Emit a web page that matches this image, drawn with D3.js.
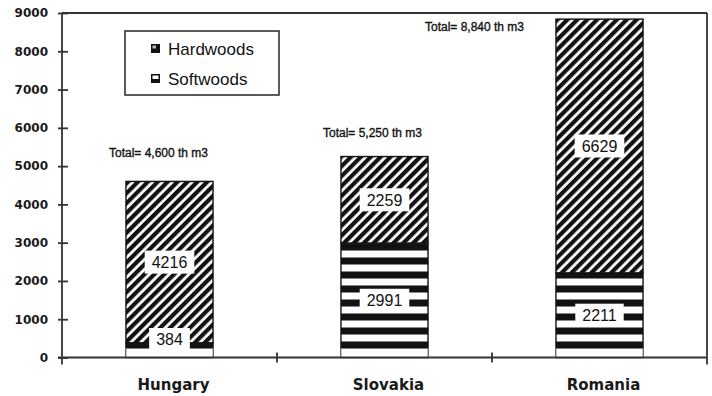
<!DOCTYPE html>
<html>
<head>
<meta charset="utf-8">
<script src="https://cdn.jsdelivr.net/npm/d3@7"></script>
<style>
  html, body { margin: 0; padding: 0; background: #fff; }
  svg { display: block; }
</style>
</head>
<body>
<svg id="chart" width="712" height="396"></svg>
<script>
// Wood removals by species group, thousand m3
const categories = ["Hungary", "Slovakia", "Romania"];
const softwoods = [384, 2991, 2211];
const hardwoods = [4216, 2259, 6629];
const seriesKeys = ["Softwoods", "Hardwoods"];
const legendKeys = ["Hardwoods", "Softwoods"];
const yTicks = [0, 1000, 2000, 3000, 4000, 5000, 6000, 7000, 8000, 9000];

// Plot frame
const plot = { left: 62, right: 707, top: 13, bottom: 357.5 };
const ink = "#121212";
const frameInk = "#333";

const svg = d3.select("#chart");

const x = d3.scaleBand().domain(categories).range([plot.left, plot.right]);
const y = d3.scaleLinear().domain([0, 9000]).range([plot.bottom, plot.top]);
const barW = x.bandwidth() * 0.405;
const cx = c => x(c) + x.bandwidth() / 2;
const plinth = 9;

const rows = categories.map((c, i) => ({
  category: c,
  Softwoods: softwoods[i],
  Hardwoods: hardwoods[i]
}));
const stacked = d3.stack().keys(seriesKeys)(rows);

// Fill patterns: diagonal hatching for hardwoods, horizontal bands for softwoods
const defs = svg.append("defs");
const hatch = defs.append("pattern")
  .attr("id", "hatch-hard")
  .attr("patternUnits", "userSpaceOnUse")
  .attr("width", 7).attr("height", 7)
  .attr("patternTransform", "rotate(-45)");
hatch.append("rect").attr("width", 7).attr("height", 7).attr("fill", "#fff");
hatch.append("rect").attr("width", 7).attr("height", 4.2).attr("fill", ink);

const bands = defs.append("pattern")
  .attr("id", "bands-soft")
  .attr("patternUnits", "userSpaceOnUse")
  .attr("x", 0).attr("y", plot.bottom - plinth)
  .attr("width", 14).attr("height", 14);
bands.append("rect").attr("width", 14).attr("height", 14).attr("fill", "#fff");
bands.append("rect").attr("y", 7).attr("width", 14).attr("height", 7).attr("fill", ink);

const fills = { Hardwoods: "url(#hatch-hard)", Softwoods: "url(#bands-soft)" };

// Stacked bars
const layers = svg.append("g").selectAll("g")
  .data(stacked)
  .join("g");

layers.selectAll("rect")
  .data(layer => layer.map(d => ({ key: layer.key, d })))
  .join("rect")
  .attr("x", s => cx(s.d.data.category) - barW / 2)
  .attr("y", s => y(s.d[1]))
  .attr("width", barW)
  .attr("height", s => y(s.d[0]) - y(s.d[1]))
  .attr("fill", s => fills[s.key])
  .attr("stroke", ink)
  .attr("stroke-width", 1.4);

// Light plinth at the foot of each bar
svg.append("g").selectAll("rect")
  .data(categories)
  .join("rect")
  .attr("x", c => cx(c) - barW / 2)
  .attr("y", plot.bottom - plinth)
  .attr("width", barW)
  .attr("height", plinth)
  .attr("fill", "#fff")
  .attr("stroke", "#808080")
  .attr("stroke-width", 1);

// Value labels in white boxes, centred on each segment
const valueLabels = svg.append("g")
  .attr("font-family", "'Liberation Sans', Arial, Helvetica, sans-serif")
  .attr("font-size", 16)
  .attr("fill", ink);

stacked.forEach(layer => {
  layer.forEach(d => {
    const value = d[1] - d[0];
    const px = cx(d.data.category);
    const py = Math.min(y((d[0] + d[1]) / 2), plot.bottom - 18);
    const g = valueLabels.append("g");
    const box = g.append("rect").attr("fill", "#fff");
    const t = g.append("text")
      .attr("x", px)
      .attr("y", py)
      .attr("dy", "0.36em")
      .attr("text-anchor", "middle")
      .text(value);
    const w = t.node().getComputedTextLength() + 14;
    const h = 23;
    box.attr("x", px - w / 2).attr("y", py - h / 2).attr("width", w).attr("height", h);
  });
});

// Total annotations above/beside each bar
const totalOffsets = [[-11, -24], [-12, -20], [-125, 12]];
const fmt = d3.format(",");
svg.append("g")
  .attr("font-family", "'Liberation Sans', Arial, Helvetica, sans-serif")
  .attr("font-size", 12)
  .attr("fill", ink)
  .attr("stroke", ink)
  .attr("stroke-width", 0.35)
  .selectAll("text")
  .data(rows)
  .join("text")
  .attr("x", (d, i) => cx(d.category) + totalOffsets[i][0])
  .attr("y", (d, i) => y(d.Softwoods + d.Hardwoods) + totalOffsets[i][1])
  .attr("text-anchor", "middle")
  .text(d => `Total= ${fmt(d.Softwoods + d.Hardwoods)} th m3`);

// Y axis with ticks that cross the axis line
const yAxis = svg.append("g")
  .attr("transform", `translate(${plot.left},0)`)
  .call(d3.axisLeft(y).tickValues(yTicks).tickSize(4).tickPadding(10).tickFormat(d3.format("d")));
yAxis.select(".domain").remove();
yAxis.selectAll(".tick line")
  .attr("x1", 6)
  .attr("stroke", frameInk)
  .attr("stroke-width", 1.8);
yAxis.selectAll(".tick text")
  .attr("font-family", "'DejaVu Sans', Verdana, sans-serif")
  .attr("font-weight", "bold")
  .attr("font-size", 12)
  .attr("fill", "#1a1a1a");

// Frame: left axis, top edge, right edge and baseline
const frame = svg.append("g")
  .attr("stroke", frameInk)
  .attr("stroke-width", 1.8)
  .attr("fill", "none");
frame.append("line").attr("x1", plot.left).attr("x2", plot.left).attr("y1", plot.top).attr("y2", plot.bottom + 7);
frame.append("line").attr("x1", plot.left).attr("x2", plot.right).attr("y1", plot.top).attr("y2", plot.top);
frame.append("line").attr("x1", plot.right).attr("x2", plot.right).attr("y1", plot.top).attr("y2", plot.bottom + 7);
frame.append("line").attr("x1", plot.left - 4).attr("x2", plot.right).attr("y1", plot.bottom).attr("y2", plot.bottom);

// Category separators on the baseline
frame.selectAll(".sep")
  .data(categories.slice(1))
  .join("line")
  .attr("class", "sep")
  .attr("x1", c => x(c)).attr("x2", c => x(c))
  .attr("y1", plot.bottom - 5).attr("y2", plot.bottom + 5);

// Category labels
svg.append("g")
  .attr("font-family", "'DejaVu Sans', Verdana, sans-serif")
  .attr("font-weight", "bold")
  .attr("font-size", 15)
  .attr("fill", "#1a1a1a")
  .selectAll("text")
  .data(categories)
  .join("text")
  .attr("x", c => cx(c) + 4)
  .attr("y", 390)
  .attr("text-anchor", "middle")
  .text(c => c);

// Legend
const legend = svg.append("g").attr("transform", "translate(125,31)");
legend.append("rect")
  .attr("width", 154).attr("height", 64)
  .attr("fill", "#fff")
  .attr("stroke", frameInk)
  .attr("stroke-width", 1.6);

const items = legend.selectAll(".item")
  .data(legendKeys)
  .join("g")
  .attr("class", "item")
  .attr("transform", (k, i) => `translate(26,${13 + i * 30})`);

items.append("rect")
  .attr("width", 9).attr("height", 9)
  .attr("fill", ink);
items.append("rect")
  .attr("x", 1.5)
  .attr("y", 1.5)
  .attr("width", k => k === "Hardwoods" ? 3.5 : 6)
  .attr("height", k => k === "Hardwoods" ? 3 : 3.5)
  .attr("fill", k => k === "Hardwoods" ? "#bbb" : "#fff");

items.append("text")
  .attr("x", 17)
  .attr("y", 11)
  .attr("font-family", "'Liberation Sans', Arial, Helvetica, sans-serif")
  .attr("font-size", 17)
  .attr("fill", ink)
  .text(k => k);
</script>
</body>
</html>
